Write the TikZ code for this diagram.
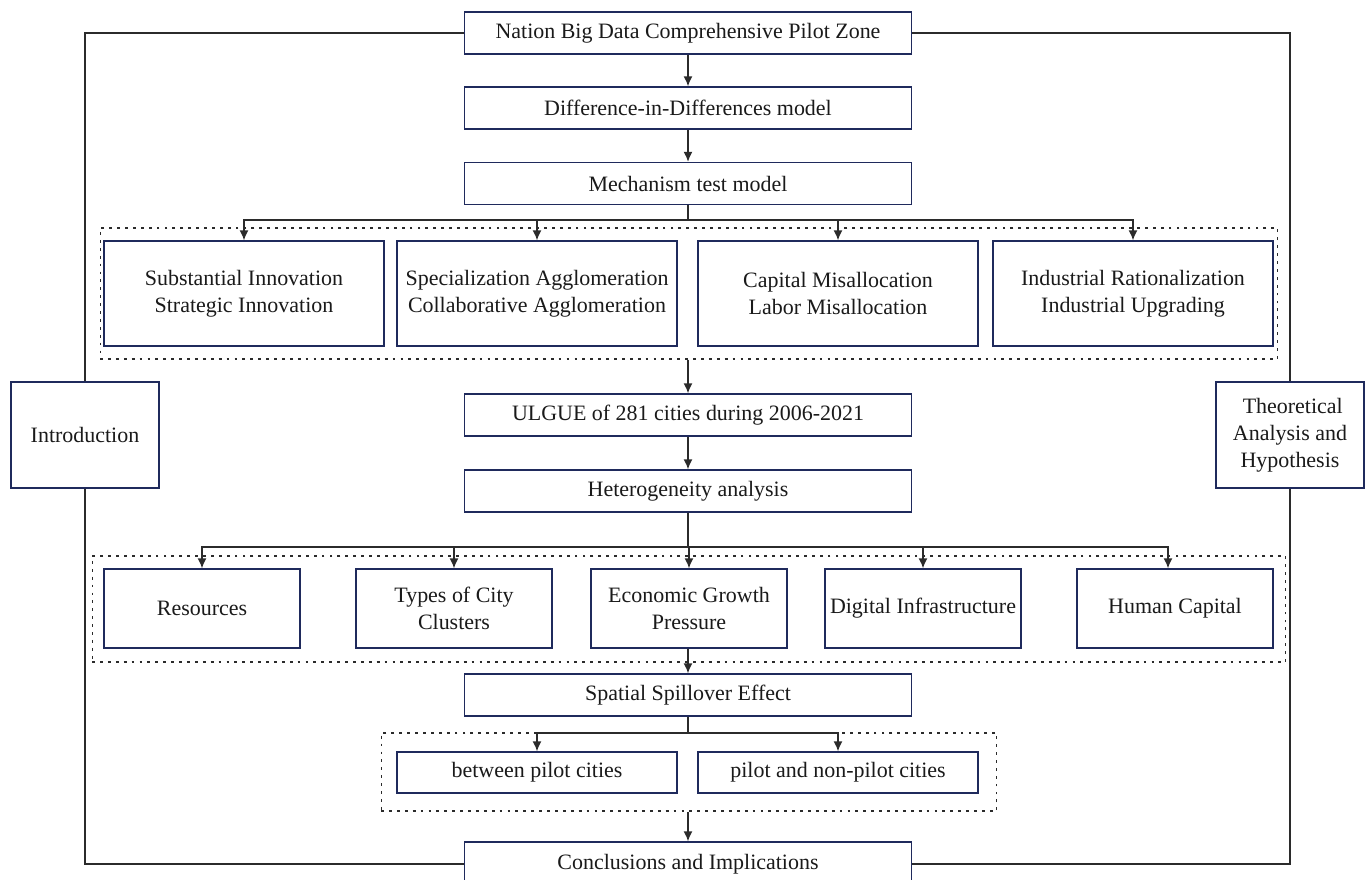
\documentclass[tikz,border=0pt]{standalone}
\usepackage{fontspec}
\setmainfont{Liberation Serif}
\usetikzlibrary{arrows.meta,positioning}
\usepackage{xcolor}
\definecolor{Navy}{HTML}{1F2A5C}
\definecolor{Ink}{HTML}{1A1A1A}
\definecolor{Frame}{HTML}{2B2B2B}

\begin{document}
\begin{tikzpicture}[x=0.02cm,y=-0.02cm,>={Latex[length=2mm,width=1.8mm]},
  every node/.style={font=\fontsize{12.5}{15.5}\selectfont,text=Ink},
  stepbox/.style={draw=Navy,line width=0.8pt,fill=white,align=center,inner sep=0pt},
  wide/.style={stepbox,minimum width=8.94cm,minimum height=0.84cm},
  mech/.style={stepbox,minimum width=5.6cm,minimum height=2.1cm},
  het/.style={stepbox,minimum width=3.92cm,minimum height=1.58cm},
  side/.style={stepbox,minimum width=2.96cm,minimum height=2.12cm},
  group/.style={draw=Frame,line width=0.6pt,dash pattern=on 1.6pt off 2.9pt,inner sep=0pt},
  link/.style={draw=Frame,line width=0.8pt},
  arr/.style={link,->}]
  \useasboundingbox (0,0) rectangle (1368,879);

  % dotted groups
  \node[group,minimum width=23.56cm,minimum height=2.62cm] (grpA) at (689,293.5) {};
  \node[group,minimum width=23.88cm,minimum height=2.12cm] (grpB) at (689,609) {};
  \node[group,minimum width=12.32cm,minimum height=1.56cm] (grpC) at (689,772) {};

  % main column
  \node[wide] (nation) at (688,33) {Nation Big Data Comprehensive Pilot Zone};
  \node[wide] (did) at (688,108) {Difference-in-Differences model};
  \node[wide] (mtest) at (688,183.5) {Mechanism test model};
  \node[wide] (ulgue) at (688,415) {ULGUE of 281 cities during 2006-2021};
  \node[wide] (hetero) at (688,491) {Heterogeneity analysis};
  \node[wide] (spill) at (688,695) {Spatial Spillover Effect};
  \node[wide,minimum height=0.88cm] (concl) at (688,864) {Conclusions and Implications};

  % mechanisms
  \node[mech] (innov) at (244,293.5) {Substantial Innovation\\Strategic Innovation};
  \node[mech] (aggl) at (537,293.5) {Specialization Agglomeration\\Collaborative Agglomeration};
  \node[mech] (misal) at (838,293.5) {Capital Misallocation\\Labor Misallocation};
  \node[mech] (indus) at (1133,293.5) {Industrial Rationalization\\Industrial Upgrading};

  % heterogeneity
  \node[het] (res) at (202,608.5) {Resources};
  \node[het] (clus) at (454,608.5) {Types of City\\Clusters};
  \node[het] (econ) at (689,608.5) {Economic Growth\\Pressure};
  \node[het] (digi) at (923,608.5) {Digital Infrastructure};
  \node[het] (hum) at (1175,608.5) {Human Capital};

  % spillover
  \node[stepbox,minimum width=5.6cm,minimum height=0.82cm] (betw) at (537,772.5) {between pilot cities};
  \node[stepbox,minimum width=5.6cm,minimum height=0.82cm] (nonp) at (838,772.5) {pilot and non-pilot cities};

  % sides
  \node[side] (intro) at (85,435) {Introduction};
  \node[side] (theory) at (1290,435) {\ Theoretical\\Analysis and\\Hypothesis};

  % frame
  \draw[link] (nation.west) -| (intro.north);
  \draw[link] (intro.south) |- (concl.west);
  \draw[link] (nation.east) -| (theory.north);
  \draw[link] (theory.south) |- (concl.east);

  % arrows
  \draw[arr] (nation) -- (did);
  \draw[arr] (did) -- (mtest);
  \coordinate (brA) at (688,220);
  \foreach \t in {innov,aggl,misal,indus}
    \draw[arr] (mtest.south) -- (brA) -| (\t.north);
  \draw[arr] (ulgue.north |- grpA.south) -- (ulgue.north);
  \draw[arr] (ulgue) -- (hetero);
  \coordinate (brB) at (688,547);
  \foreach \t in {res,clus,econ,digi}
    \draw[arr] (hetero.south) -- (brB) -| (\t.north);
  \draw[arr] (hetero.south) -- (brB) -| ([xshift=-0.14cm]hum.north);
  \draw[arr] (econ.south -| spill.north) -- (spill.north);
  \coordinate (brC) at (688,733);
  \foreach \t in {betw,nonp}
    \draw[arr] (spill.south) -- (brC) -| (\t.north);
  \draw[arr] (concl.north |- grpC.south) -- (concl.north);
\end{tikzpicture}
\end{document}
